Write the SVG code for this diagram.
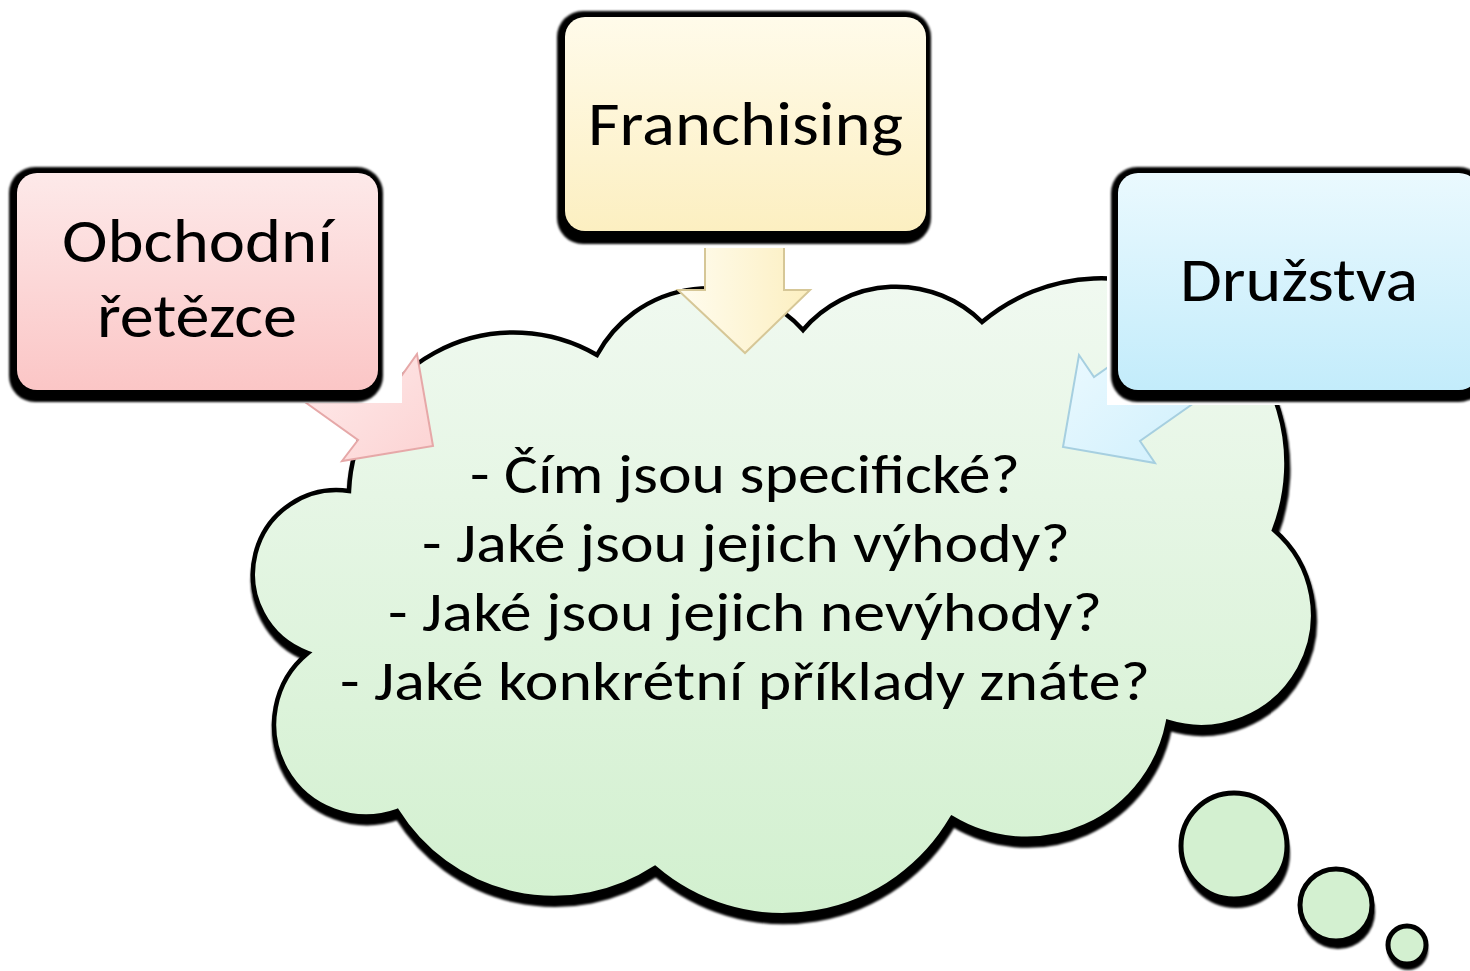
<svg xmlns="http://www.w3.org/2000/svg" width="1470" height="971" viewBox="0 0 1470 971">
  <style>
    .t { font-family: Carlito, Calibri, Lato, "Open Sans", sans-serif; fill: #000; text-anchor: middle; }
    .box-t { font-size: 62px; }
    .cl-t { font-size: 56px; }
    .blk { fill: #000; filter: url(#soft); }
    .wht { fill: #fff; }
    .arrow { stroke-width: 2; stroke-linejoin: miter; }
    .bub { fill: #d3f0d0; stroke: #000; stroke-width: 5; }
  </style>
  <defs>
    <filter id="soft" x="-5%" y="-5%" width="110%" height="110%">
      <feGaussianBlur stdDeviation="1"/>
    </filter>
    <linearGradient id="gPink" x1="0" y1="0" x2="0" y2="1">
      <stop offset="0" stop-color="#fde9e9"/>
      <stop offset="1" stop-color="#fbc6c6"/>
    </linearGradient>
    <linearGradient id="gYellow" x1="0" y1="0" x2="0" y2="1">
      <stop offset="0" stop-color="#fffbea"/>
      <stop offset="1" stop-color="#fcefc1"/>
    </linearGradient>
    <linearGradient id="gBlue" x1="0" y1="0" x2="0" y2="1">
      <stop offset="0" stop-color="#eaf9fe"/>
      <stop offset="1" stop-color="#c3ecfb"/>
    </linearGradient>
    <linearGradient id="gCloud" gradientUnits="userSpaceOnUse" x1="0" y1="285" x2="0" y2="915">
      <stop offset="0" stop-color="#f0f9f0"/>
      <stop offset="1" stop-color="#d2f0cf"/>
    </linearGradient>
    <linearGradient id="gArrPink" x1="0" y1="0" x2="1" y2="1">
      <stop offset="0" stop-color="#fff2f2"/>
      <stop offset="1" stop-color="#fcd3d3"/>
    </linearGradient>
    <linearGradient id="gArrYellow" x1="0" y1="0" x2="1" y2="0">
      <stop offset="0" stop-color="#fffcef"/>
      <stop offset="1" stop-color="#fcefc0"/>
    </linearGradient>
    <linearGradient id="gArrBlue" x1="0" y1="0" x2="1" y2="1">
      <stop offset="0" stop-color="#f0fbff"/>
      <stop offset="1" stop-color="#cbeefc"/>
    </linearGradient>
    <path id="cloudPath" d="M 597 355 A 127 127 0 0 1 803 330 A 122 122 0 0 1 982 322 A 185 185 0 0 1 1274 530 A 112 112 0 0 1 1168 722 A 144 144 0 0 1 952 818 A 196 196 0 0 1 655 868 A 185 185 0 0 1 397 811 A 92 92 0 0 1 308 653 A 84 84 0 0 1 349 491 A 165 165 0 0 1 597 355 Z"/>
  </defs>

  <rect width="1470" height="971" fill="#fff"/>

  <g id="node-cloud">
    <use href="#cloudPath" transform="translate(1,6)" fill="#000" stroke="#000" stroke-width="6" filter="url(#soft)"/>
    <use href="#cloudPath" fill="url(#gCloud)" stroke="#000" stroke-width="4.5" stroke-linejoin="miter"/>
    <text class="t cl-t" x="745" y="493" textLength="550" lengthAdjust="spacingAndGlyphs">- Čím jsou specifické?</text>
    <text class="t cl-t" x="746" y="562" textLength="648" lengthAdjust="spacingAndGlyphs">- Jaké jsou jejich výhody?</text>
    <text class="t cl-t" x="745" y="631" textLength="714" lengthAdjust="spacingAndGlyphs">- Jaké jsou jejich nevýhody?</text>
    <text class="t cl-t" x="745" y="700" textLength="810" lengthAdjust="spacingAndGlyphs">- Jaké konkrétní příklady znáte?</text>
  </g>

  <g id="node-bubbles">
    <circle cx="1236" cy="854" r="54" class="blk"/>
    <circle cx="1234" cy="846" r="53" class="bub"/>
    <circle cx="1338" cy="912" r="37" class="blk"/>
    <circle cx="1336" cy="905" r="36" class="bub"/>
    <circle cx="1408" cy="950" r="20" class="blk"/>
    <circle cx="1407" cy="945" r="19" class="bub"/>
  </g>

  <g id="connectors">
    <polygon class="arrow" fill="url(#gArrPink)" stroke="#e6a8a8" points="321,317 402,375 417,354 433,446 342,461 358,440 277,382"/>
    <polygon class="arrow" fill="url(#gArrYellow)" stroke="#d6c797" points="705,200 784,200 784,290 810,290 745,353 678,290 705,290"/>
    <polygon class="arrow" fill="url(#gArrBlue)" stroke="#a6cfe0" points="1192,308 1094,377 1079,355 1063,447 1155,463 1140,441 1238,372"/>
  </g>

  <g id="node-obchodni">
    <rect class="wht" x="0" y="160" width="402" height="243"/>
    <rect class="blk" x="9" y="167" width="374" height="235" rx="26"/>
    <rect x="17" y="173" width="361" height="217" rx="20" fill="url(#gPink)"/>
    <text class="t box-t" x="197.5" y="262" textLength="271" lengthAdjust="spacingAndGlyphs">Obchodní</text>
    <text class="t box-t" x="197" y="337" textLength="200" lengthAdjust="spacingAndGlyphs">řetězce</text>
  </g>

  <g id="node-franchising">
    <rect class="wht" x="548" y="0" width="390" height="248"/>
    <rect class="blk" x="557" y="11" width="374" height="233" rx="26"/>
    <rect x="565" y="17" width="361" height="214" rx="20" fill="url(#gYellow)"/>
    <text class="t box-t" x="745.5" y="145" textLength="315" lengthAdjust="spacingAndGlyphs">Franchising</text>
  </g>

  <g id="node-druzstva">
    <rect class="wht" x="1107" y="160" width="363" height="245"/>
    <rect class="blk" x="1111" y="167" width="374" height="235" rx="26"/>
    <rect x="1118" y="173" width="361" height="217" rx="20" fill="url(#gBlue)"/>
    <text class="t box-t" x="1299" y="301" textLength="238" lengthAdjust="spacingAndGlyphs">Družstva</text>
  </g>
</svg>
